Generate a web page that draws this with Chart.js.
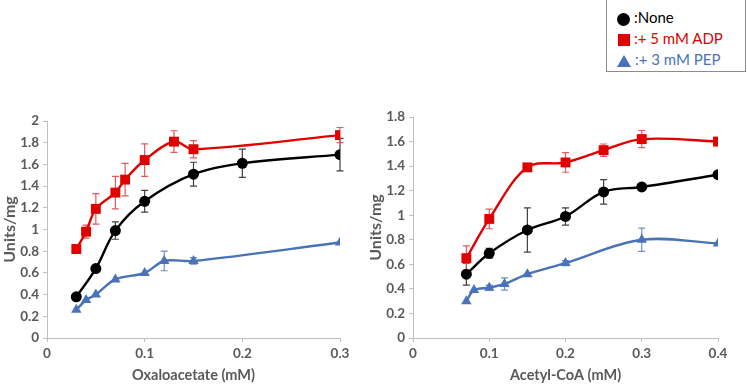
<!DOCTYPE html>
<html>
<head>
<meta charset="utf-8">
<script src="https://cdn.jsdelivr.net/npm/chart.js@4.4.1/dist/chart.umd.min.js"></script>
<style>
  body { margin: 0; background: #fff; width: 747px; height: 384px; position: relative; overflow: hidden; font-family: Lato, "Open Sans", sans-serif; }
  .box { position: absolute; }
  #legend { position: absolute; left: 606px; top: -1px; width: 140px; height: 73px; border: 1px solid #8c8c8c; box-sizing: border-box; background: #fff; }
  .row { position: absolute; left: 10px; font-size: 15px; line-height: 18px; white-space: nowrap; }
  .mk { display: inline-block; vertical-align: middle; margin-right: 4px; }
  .dot { width: 13px; height: 13px; border-radius: 50%; background: #000; }
  .sq { width: 12px; height: 12px; background: #e00000; margin-left: 1px; }
  .tri { width: 0; height: 0; border-left: 7px solid transparent; border-right: 7px solid transparent; border-bottom: 12px solid #4a72b8; }
</style>
</head>
<body>
<div class="box" style="left:0;top:100px;width:370px;height:284px"><canvas id="graficoOxa"></canvas></div>
<div class="box" style="left:366px;top:100px;width:381px;height:284px"><canvas id="graficoAcetil"></canvas></div>
<div id="legend">
  <div class="row" style="top:8px;color:#000"><span class="mk dot"></span>:None</div>
  <div class="row" style="top:29px;color:#e00000"><span class="mk sq"></span>:+ 5 mM ADP</div>
  <div class="row" style="top:50px;color:#4a72b8"><span class="mk tri"></span>:+ 3 mM PEP</div>
</div>
<script>
// Grafico 1 : oxaloacetato
const oxaNoneX = [0.03, 0.05, 0.07, 0.1, 0.15, 0.2, 0.3];
const oxaNoneY = [0.38, 0.64, 0.99, 1.26, 1.51, 1.61, 1.69];
const oxaNoneErr = [0, 0, 0.08, 0.1, 0.11, 0.13, 0.15];

const oxaAdpX = [0.03, 0.04, 0.05, 0.07, 0.08, 0.1, 0.13, 0.15, 0.3];
const oxaAdpY = [0.82, 0.98, 1.19, 1.34, 1.46, 1.64, 1.81, 1.74, 1.87];
const oxaAdpErr = [0, 0.06, 0.14, 0.15, 0.15, 0.15, 0.1, 0.08, 0.07];

const oxaPepX = [0.03, 0.04, 0.05, 0.07, 0.1, 0.12, 0.15, 0.3];
const oxaPepY = [0.26, 0.35, 0.40, 0.54, 0.60, 0.71, 0.71, 0.88];
const oxaPepErr = [0, 0, 0, 0, 0, 0.09, 0.03, 0];

// Grafico 2 : acetil-CoA
const acNoneX = [0.07, 0.1, 0.15, 0.2, 0.25, 0.3, 0.4];
const acNoneY = [0.52, 0.69, 0.88, 0.99, 1.19, 1.23, 1.33];
const acNoneErr = [0.09, 0.04, 0.18, 0.07, 0.1, 0, 0];

const acAdpX = [0.07, 0.1, 0.15, 0.2, 0.25, 0.3, 0.4];
const acAdpY = [0.65, 0.97, 1.39, 1.43, 1.53, 1.62, 1.60];
const acAdpErr = [0.1, 0.08, 0, 0.08, 0.05, 0.07, 0];

const acPepX = [0.07, 0.08, 0.1, 0.12, 0.15, 0.2, 0.3, 0.4];
const acPepY = [0.30, 0.39, 0.41, 0.44, 0.52, 0.61, 0.80, 0.77];
const acPepErr = [0, 0, 0.02, 0.05, 0, 0.02, 0.095, 0];

const corTexto = '#595959';
const corEixo = '#bfbfbf';

function pontos(xs, ys) {
    return xs.map((x, i) => ({ x: x, y: ys[i] }));
}

function serie(xs, ys, err, cor, corErro, estilo, raio) {
    return {
        data: pontos(xs, ys),
        erros: err,
        corErro: corErro,
        borderColor: cor,
        backgroundColor: cor,
        borderWidth: 2.4,
        pointStyle: estilo,
        pointRadius: raio,
        pointBorderWidth: 0,
        tension: 0.35
    };
}

// barras de erro desenhadas pelas escalas do grafico
const barrasErro = {
    id: 'barrasErro',
    beforeDatasetsDraw(chart) {
        const ctx = chart.ctx;
        const sx = chart.scales.x, sy = chart.scales.y;
        chart.data.datasets.forEach(ds => {
            ctx.save();
            ctx.strokeStyle = ds.corErro;
            ctx.lineWidth = 1.2;
            ds.data.forEach((p, i) => {
                const e = ds.erros[i];
                if (!e) return;
                const px = sx.getPixelForValue(p.x);
                const y1 = sy.getPixelForValue(p.y - e);
                const y2 = sy.getPixelForValue(p.y + e);
                ctx.beginPath();
                ctx.moveTo(px, y1); ctx.lineTo(px, y2);
                ctx.moveTo(px - 3.5, y1); ctx.lineTo(px + 3.5, y1);
                ctx.moveTo(px - 3.5, y2); ctx.lineTo(px + 3.5, y2);
                ctx.stroke();
            });
            ctx.restore();
        });
    }
};

function fmt(v) {
    return String(+Number(v).toFixed(2));
}

function criarGrafico(id, datasets, xMax, yMax, tituloX, padTop, padRight) {
    const ctx = document.getElementById(id).getContext('2d');
    return new Chart(ctx, {
        type: 'line',
        data: { datasets: datasets },
        plugins: [barrasErro],
        options: {
            responsive: true,
            maintainAspectRatio: false,
            animation: false,
            layout: { padding: { top: padTop, right: padRight, left: 0, bottom: 0 } },
            plugins: { legend: { display: false }, tooltip: { enabled: false } },
            scales: {
                x: {
                    type: 'linear',
                    min: 0,
                    max: xMax,
                    ticks: { stepSize: 0.1, color: corTexto, font: { family: 'Lato', size: 13.5, weight: 'bold' }, callback: fmt, padding: 4 },
                    grid: { drawOnChartArea: false, drawTicks: true, tickLength: 4, color: corEixo },
                    border: { color: corEixo, width: 1 },
                    title: { display: true, text: tituloX, color: corTexto, font: { family: 'Lato', size: 14.5, weight: 'bold' }, padding: { top: 3, bottom: 0 } },
                    afterFit(scale) { scale.height = 46; }
                },
                y: {
                    min: 0,
                    max: yMax,
                    ticks: { stepSize: 0.2, color: corTexto, font: { family: 'Lato', size: 13.5, weight: 'bold' }, callback: fmt, padding: 4 },
                    grid: { drawOnChartArea: false, drawTicks: true, tickLength: 4, color: corEixo },
                    border: { color: corEixo, width: 1 },
                    title: { display: true, text: 'Units/mg', color: corTexto, font: { family: 'Lato', size: 16, weight: 'bold' }, padding: { top: 0, bottom: 2 } },
                    afterFit(scale) { scale.width = 47; }
                }
            }
        }
    });
}

const preto = '#000000', vermelho = '#e00000', azul = '#4a72b8';

criarGrafico('graficoOxa', [
    serie(oxaNoneX, oxaNoneY, oxaNoneErr, preto, '#404040', 'circle', 5.5),
    serie(oxaAdpX, oxaAdpY, oxaAdpErr, vermelho, '#e35a5a', 'rect', 7),
    serie(oxaPepX, oxaPepY, oxaPepErr, azul, '#6f8fca', 'triangle', 6)
], 0.3, 2, 'Oxaloacetate (mM)', 21, 30);

criarGrafico('graficoAcetil', [
    serie(acNoneX, acNoneY, acNoneErr, preto, '#404040', 'circle', 5.5),
    serie(acAdpX, acAdpY, acAdpErr, vermelho, '#e35a5a', 'rect', 7),
    serie(acPepX, acPepY, acPepErr, azul, '#6f8fca', 'triangle', 6)
], 0.4, 1.8, 'Acetyl-CoA (mM)', 17, 29);
</script>
</body>
</html>
